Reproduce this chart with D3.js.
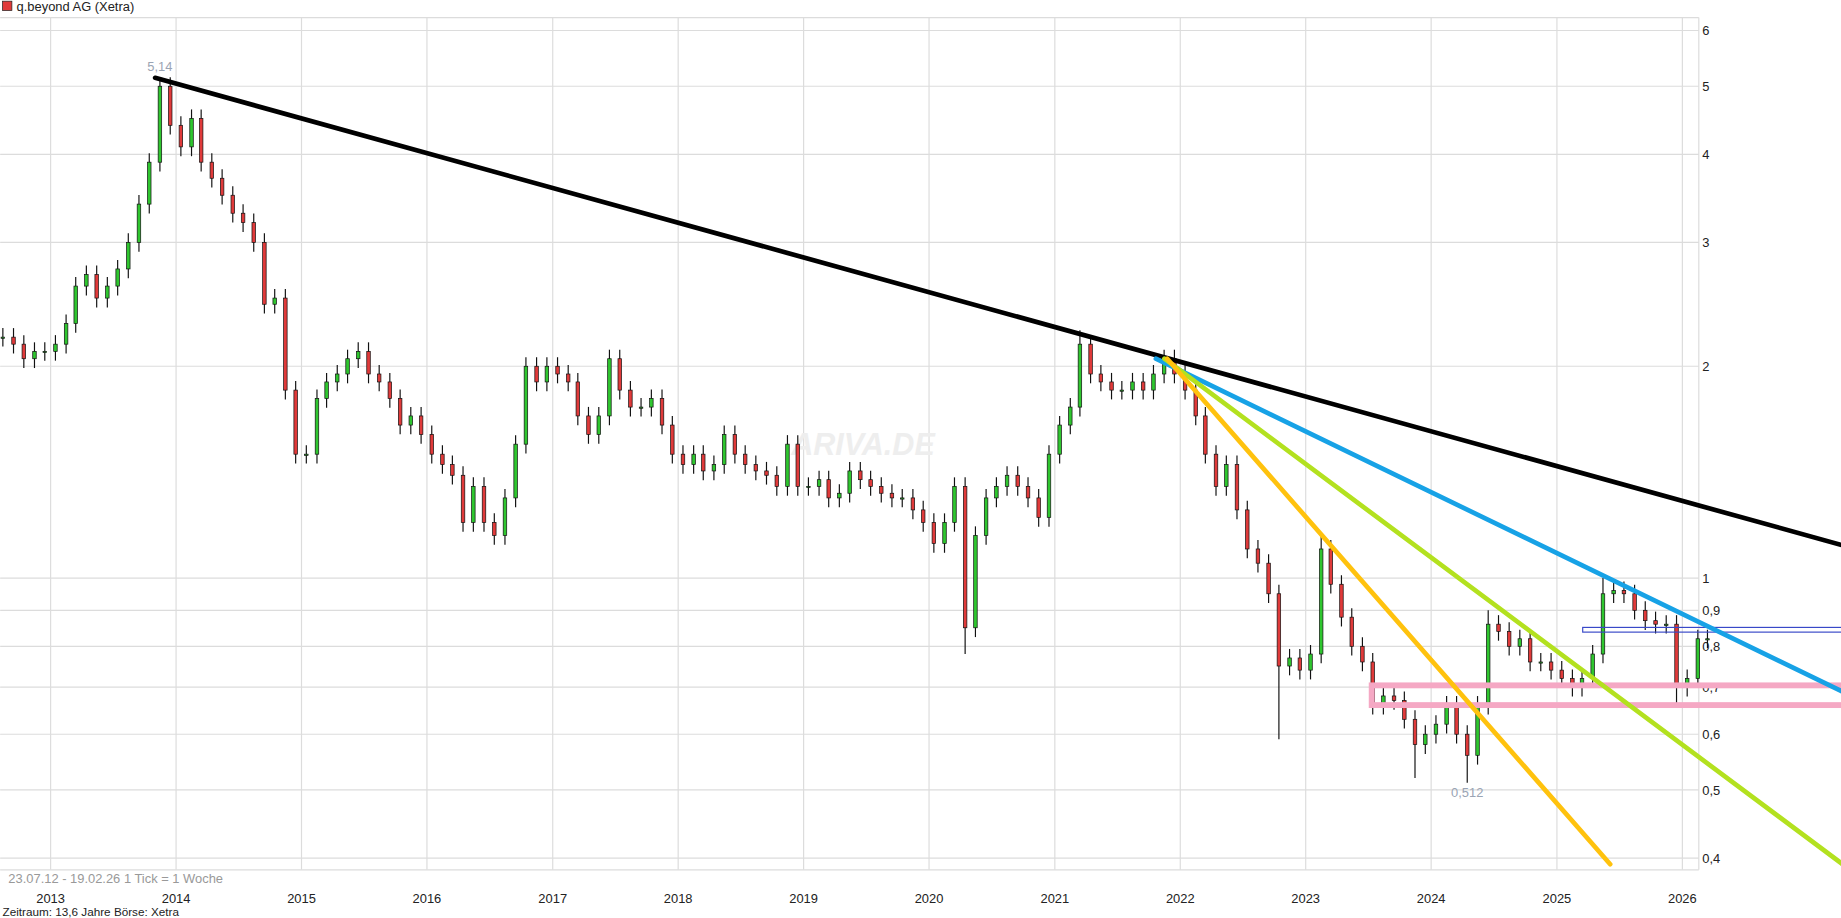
<!DOCTYPE html>
<html>
<head>
<meta charset="utf-8">
<script src="https://d3js.org/d3.v7.min.js"></script>
<style>
  body { margin: 0; background: #fff; overflow: hidden; }
  text { font-family: "Liberation Sans Narrow", "Liberation Sans", Arial, sans-serif; }
</style>
</head>
<body>
<div id="chart"></div>
<script>
// monthly closes, Aug 2012 .. Feb 2026
var closes = [
  2.2, 2.15, 2.05, 2.1, 2.1,
  2.15, 2.3, 2.6, 2.7, 2.5, 2.6, 2.75, 3.0, 3.4, 3.9, 5.0, 4.4,
  4.1, 4.5, 3.9, 3.7, 3.5, 3.3, 3.2, 3.0, 2.45, 2.5, 1.85, 1.5,
  1.5, 1.8, 1.9, 1.95, 2.05, 2.1, 1.95, 1.9, 1.8, 1.65, 1.7, 1.6,
  1.5, 1.45, 1.4, 1.2, 1.35, 1.2, 1.15, 1.3, 1.55, 2.0, 1.9, 2.0,
  1.95, 1.9, 1.7, 1.6, 1.7, 2.05, 1.85, 1.75, 1.75, 1.8, 1.65, 1.5,
  1.45, 1.5, 1.42, 1.45, 1.6, 1.5, 1.45, 1.42, 1.4, 1.35, 1.55, 1.35,
  1.35, 1.38, 1.3, 1.32, 1.42, 1.38, 1.35, 1.32, 1.3, 1.3, 1.25, 1.2,
  1.12, 1.2, 1.35, 0.85, 1.15, 1.3, 1.35, 1.4, 1.35, 1.3, 1.22, 1.5,
  1.65, 1.75, 2.15, 1.95, 1.9, 1.85, 1.85, 1.9, 1.85, 1.95, 2.05, 1.95,
  1.85, 1.7, 1.5, 1.35, 1.45, 1.25, 1.1, 1.05, 0.95, 0.75, 0.77, 0.74,
  0.78, 1.1, 0.98, 0.88, 0.8, 0.76, 0.66, 0.68, 0.67, 0.63, 0.58, 0.6,
  0.62, 0.66, 0.6, 0.56, 0.66, 0.86, 0.84, 0.8, 0.82, 0.76, 0.76, 0.74,
  0.72, 0.7, 0.72, 0.78, 0.95, 0.96, 0.95, 0.9, 0.87, 0.86, 0.86, 0.7,
  0.72, 0.82, 0.82
];
// notable wick extremes: [month index, value]
var extremeHighs = [[15, 5.14], [103, 2.25], [126, 1.15], [142, 0.9], [153, 1.0]];
var extremeLows = [[92, 0.78], [122, 0.59], [135, 0.52], [140, 0.512], [160, 0.66]];

var yTicks = [0.4, 0.5, 0.6, 0.7, 0.8, 0.9, 1, 2, 3, 4, 5, 6];
var years = d3.range(2013, 2027);

// trend lines: [startDate, startValue, endDate, endValue, colour]
var trendLines = [
  ["2013-11-01", 5.14, "2027-04-22", 1.11, "#000000"],
  ["2021-10-22", 2.05, "2027-04-22", 0.686, "#17a2e6"],
  ["2021-11-16", 2.05, "2027-04-22", 0.389, "#b3e11f"],
  ["2021-11-24", 2.05, "2025-06-05", 0.392, "#ffc20e"]
];
var pinkLevels = [0.704, 0.66];
var pinkStart = "2023-07-12";
var blueBox = [0.851, 0.838];
var blueBoxStart = "2025-03-17";

var W = 1568, H = 782, plotRight = 1447, plotTop = 15, plotBottom = 741;
var svg = d3.select("#chart").append("svg")
  .attr("width", 1841).attr("height", 918)
  .attr("viewBox", "0 0 " + W + " " + H);

var parse = d3.timeParse("%Y-%m-%d");
var x = d3.scaleTime()
  .domain([new Date(2013, 0, 1), new Date(2026, 0, 1)])
  .range([43, 1433]);
var y = d3.scaleLog().domain([0.4, 6]).range([731, 26]);

var dates = closes.map(function(d, i) { return new Date(2012, 7 + i, 15); });

// grid
svg.append("g").selectAll("line").data(years).enter().append("line")
  .attr("x1", function(d) { return x(new Date(d, 0, 1)); })
  .attr("x2", function(d) { return x(new Date(d, 0, 1)); })
  .attr("y1", plotTop).attr("y2", plotBottom)
  .attr("stroke", "#dcdcdc");
svg.append("g").selectAll("line").data(yTicks).enter().append("line")
  .attr("x1", 0).attr("x2", plotRight)
  .attr("y1", function(d) { return y(d); }).attr("y2", function(d) { return y(d); })
  .attr("stroke", "#dcdcdc");
svg.append("line").attr("x1", 0).attr("x2", plotRight).attr("y1", plotTop).attr("y2", plotTop).attr("stroke", "#dcdcdc");
svg.append("line").attr("x1", 0).attr("x2", plotRight).attr("y1", plotBottom).attr("y2", plotBottom).attr("stroke", "#dcdcdc");
svg.append("line").attr("x1", plotRight).attr("x2", plotRight).attr("y1", plotTop).attr("y2", plotBottom).attr("stroke", "#dcdcdc");

// watermark
svg.append("text").attr("x", 735).attr("y", 388).attr("text-anchor", "middle")
  .attr("font-size", 26).attr("font-weight", "bold").attr("fill", "#eeeeee")
  .attr("font-style", "italic").text("ARIVA.DE");

// axis labels
svg.append("g").selectAll("text").data(years).enter().append("text")
  .attr("x", function(d) { return x(new Date(d, 0, 1)); }).attr("y", 769)
  .attr("text-anchor", "middle").attr("font-size", 11).attr("fill", "#222")
  .text(function(d) { return d; });
svg.append("g").selectAll("text").data(yTicks).enter().append("text")
  .attr("x", 1450).attr("y", function(d) { return y(d) + 4; })
  .attr("font-size", 11).attr("fill", "#222")
  .text(function(d) { return String(d).replace(".", ","); });

// candles
var candles = closes.map(function(c, i) {
  var o = i === 0 ? c : closes[i - 1];
  var hi = Math.max(o, c) * 1.03, lo = Math.min(o, c) * 0.97;
  extremeHighs.forEach(function(e) { if (e[0] === i) hi = e[1]; });
  extremeLows.forEach(function(e) { if (e[0] === i) lo = e[1]; });
  return { date: dates[i], o: o, c: c, h: hi, l: lo };
});
var cg = svg.append("g");
cg.selectAll("line").data(candles).enter().append("line")
  .attr("x1", function(d) { return x(d.date); }).attr("x2", function(d) { return x(d.date); })
  .attr("y1", function(d) { return y(d.h); }).attr("y2", function(d) { return y(d.l); })
  .attr("stroke", "#111").attr("stroke-width", 1);
cg.selectAll("rect").data(candles).enter().append("rect")
  .attr("x", function(d) { return x(d.date) - 1.5; }).attr("width", 3)
  .attr("y", function(d) { return y(Math.max(d.o, d.c)); })
  .attr("height", function(d) { return Math.max(1, Math.abs(y(d.o) - y(d.c))); })
  .attr("fill", function(d) { return d.c >= d.o ? "#2fc62f" : "#e03a3a"; })
  .attr("stroke", "#111").attr("stroke-width", 0.6);

// extreme labels
svg.append("text").attr("x", x(dates[15])).attr("y", y(5.14) - 6).attr("text-anchor", "middle")
  .attr("font-size", 11).attr("fill", "#9aa4b4").text("5,14");
svg.append("text").attr("x", x(dates[140])).attr("y", y(0.512) + 12).attr("text-anchor", "middle")
  .attr("font-size", 11).attr("fill", "#9aa4b4").text("0,512");

// horizontal zones
svg.append("rect").attr("x", x(parse(pinkStart))).attr("width", W)
  .attr("y", y(pinkLevels[0])).attr("height", y(pinkLevels[1]) - y(pinkLevels[0]))
  .attr("fill", "none").attr("stroke", "#f5a8c4").attr("stroke-width", 5);
svg.append("rect").attr("x", x(parse(blueBoxStart))).attr("width", W)
  .attr("y", y(blueBox[0])).attr("height", y(blueBox[1]) - y(blueBox[0]))
  .attr("fill", "none").attr("stroke", "#3848c8").attr("stroke-width", 1);

// trend lines
svg.append("g").selectAll("line").data(trendLines).enter().append("line")
  .attr("x1", function(d) { return x(parse(d[0])); }).attr("y1", function(d) { return y(d[1]); })
  .attr("x2", function(d) { return x(parse(d[2])); }).attr("y2", function(d) { return y(d[3]); })
  .attr("stroke", function(d) { return d[4]; }).attr("stroke-width", 4)
  .attr("stroke-linecap", "round");

// header and footer texts
svg.append("rect").attr("x", 2).attr("y", 1).attr("width", 8).attr("height", 8)
  .attr("fill", "#e03a3a").attr("stroke", "#222").attr("stroke-width", 0.6);
svg.append("text").attr("x", 14).attr("y", 9).attr("font-size", 11).attr("fill", "#222")
  .text("q.beyond AG (Xetra)");
svg.append("text").attr("x", 2).attr("y", 780).attr("font-size", 10).attr("fill", "#222")
  .text("Zeitraum: 13,6 Jahre  Börse: Xetra");
svg.append("text").attr("x", 7).attr("y", 752).attr("font-size", 11).attr("fill", "#999")
  .text("23.07.12 - 19.02.26   1 Tick = 1 Woche");
</script>
</body>
</html>
